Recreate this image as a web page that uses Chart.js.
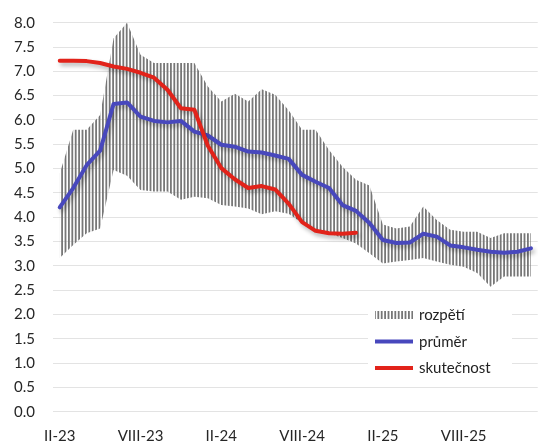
<!DOCTYPE html>
<html>
<head>
<meta charset="utf-8">
<script src="https://cdn.jsdelivr.net/npm/chart.js@4.4.1/dist/chart.umd.min.js"></script>
<style>
  body { margin: 0; background: #fff; }
  #wrap { width: 538px; height: 442px; }
</style>
</head>
<body>
<div id="wrap"><canvas id="chart" width="538" height="442"></canvas></div>
<script>
// months II-23 .. I-26
const months = [
  'II-23', 'III-23', 'IV-23', 'V-23', 'VI-23', 'VII-23', 'VIII-23', 'IX-23', 'X-23', 'XI-23', 'XII-23', 'I-24',
  'II-24', 'III-24', 'IV-24', 'V-24', 'VI-24', 'VII-24', 'VIII-24', 'IX-24', 'X-24', 'XI-24', 'XII-24', 'I-25',
  'II-25', 'III-25', 'IV-25', 'V-25', 'VI-25', 'VII-25', 'VIII-25', 'IX-25', 'X-25', 'XI-25', 'XII-25', 'I-26'
];

const rangeHigh = [
  4.90, 5.80, 5.80, 6.10, 7.68, 8.00, 7.34, 7.17, 7.17, 7.17, 7.17, 6.69,
  6.38, 6.54, 6.38, 6.63, 6.52, 6.20, 5.80, 5.80, 5.38, 5.04, 4.77, 4.65,
  3.85, 3.77, 3.81, 4.22, 3.94, 3.74, 3.70, 3.70, 3.57, 3.67, 3.67, 3.67
];

const rangeLow = [
  3.16, 3.43, 3.67, 3.77, 4.97, 4.85, 4.56, 4.53, 4.53, 4.36, 4.42, 4.39,
  4.25, 4.22, 4.18, 4.06, 4.12, 4.07, 3.88, 3.74, 3.67, 3.57, 3.46, 3.26,
  3.05, 3.09, 3.12, 3.16, 3.09, 3.02, 2.98, 2.85, 2.57, 2.78, 2.78, 2.78
];

const average = [
  4.20, 4.60, 5.07, 5.37, 6.33, 6.36, 6.07, 5.98, 5.95, 5.98, 5.76, 5.68,
  5.49, 5.45, 5.35, 5.33, 5.27, 5.20, 4.87, 4.73, 4.60, 4.25, 4.13, 3.88,
  3.53, 3.47, 3.48, 3.66, 3.60, 3.42, 3.38, 3.33, 3.29, 3.27, 3.29, 3.36
];

const actual = [
  7.22, 7.22, 7.21, 7.17, 7.10, 7.05, 6.97, 6.87, 6.62, 6.24, 6.21, 5.47,
  5.01, 4.78, 4.60, 4.64, 4.57, 4.28, 3.90, 3.72, 3.67, 3.66, 3.68
];

const seriesNames = ['rozpětí', 'průměr', 'skutečnost'];

const BLUE = '#4848bd';
const RED = '#e2231a';
const FONT = 'Lato';

const canvas = document.getElementById('chart');
const ctx = canvas.getContext('2d');

// vertical line hatch, like the excel pattern fill
function makeHatch() {
  const c = document.createElement('canvas');
  c.width = 17;
  c.height = 4;
  const g = c.getContext('2d');
  g.fillStyle = '#777777';
  for (let k = 0; k < 5; k++) {
    g.fillRect(k * 3.4, 0, 1.8, 4);
  }
  return ctx.createPattern(c, 'repeat');
}
const hatch = makeHatch();

// soft drop shadow under the two lines
const shadowPlugin = {
  id: 'lineShadow',
  beforeDatasetDraw(chart, args) {
    const ds = chart.data.datasets[args.index];
    if (!ds.shadow) return;
    const c = chart.ctx;
    c.save();
    c.shadowColor = 'rgba(0,0,0,0.3)';
    c.shadowBlur = 4;
    c.shadowOffsetX = 2;
    c.shadowOffsetY = 3;
  },
  afterDatasetDraw(chart, args) {
    const ds = chart.data.datasets[args.index];
    if (!ds.shadow) return;
    chart.ctx.restore();
  }
};

// legend sits inside the plot, lower right
const legendPlugin = {
  id: 'innerLegend',
  afterDraw(chart) {
    const c = chart.ctx;
    c.save();
    c.fillStyle = '#fff';
    c.fillRect(368, 302, 144, 76);

    c.fillStyle = hatch;
    c.fillRect(375, 311, 38, 8);

    c.lineWidth = 4;
    c.strokeStyle = BLUE;
    c.beginPath();
    c.moveTo(375, 341.5);
    c.lineTo(413, 341.5);
    c.stroke();

    c.strokeStyle = RED;
    c.beginPath();
    c.moveTo(375, 368);
    c.lineTo(413, 368);
    c.stroke();

    c.fillStyle = '#222';
    c.font = '15px ' + FONT;
    c.textBaseline = 'alphabetic';
    c.textAlign = 'left';
    c.fillText(seriesNames[0], 419, 320);
    c.fillText(seriesNames[1], 419, 346.5);
    c.fillText(seriesNames[2], 419, 373);
    c.restore();
  }
};

new Chart(canvas, {
  type: 'line',
  data: {
    labels: months,
    datasets: [
      {
        label: seriesNames[2],
        data: actual,
        borderColor: RED,
        borderWidth: 4,
        borderCapStyle: 'round',
        borderJoinStyle: 'round',
        pointRadius: 0,
        fill: false,
        shadow: true
      },
      {
        label: seriesNames[1],
        data: average,
        borderColor: BLUE,
        borderWidth: 4,
        borderCapStyle: 'round',
        borderJoinStyle: 'round',
        pointRadius: 0,
        fill: false,
        shadow: true
      },
      {
        label: seriesNames[0],
        data: rangeHigh,
        borderWidth: 0,
        borderColor: 'rgba(0,0,0,0)',
        backgroundColor: hatch,
        pointRadius: 0,
        fill: '+1'
      },
      {
        label: 'low',
        data: rangeLow,
        borderWidth: 0,
        borderColor: 'rgba(0,0,0,0)',
        pointRadius: 0,
        fill: false
      }
    ]
  },
  options: {
    responsive: false,
    animation: false,
    layout: { padding: { top: 22.7, left: 0, right: 0, bottom: 0 } },
    plugins: {
      legend: { display: false },
      tooltip: { enabled: false }
    },
    scales: {
      x: {
        type: 'category',
        offset: true,
        grid: { display: false },
        border: { display: false },
        afterFit: function (s) { s.height = 30.3; },
        ticks: {
          autoSkip: false,
          maxRotation: 0,
          minRotation: 0,
          padding: 7,
          color: '#262626',
          font: { family: FONT, size: 15 },
          callback: function (v, i) {
            return i % 6 === 0 ? months[i] : '';
          }
        }
      },
      y: {
        min: 0,
        max: 8,
        border: { display: false },
        grid: { color: '#e3e3e3', drawTicks: false },
        afterFit: function (s) {
          s.width = 53;
          s.paddingTop = 0;
          s.paddingBottom = 0;
        },
        ticks: {
          stepSize: 0.5,
          padding: 18,
          color: '#262626',
          font: { family: FONT, size: 15 },
          callback: function (v) { return v.toFixed(1); }
        }
      }
    }
  },
  plugins: [shadowPlugin, legendPlugin]
});
</script>
</body>
</html>
